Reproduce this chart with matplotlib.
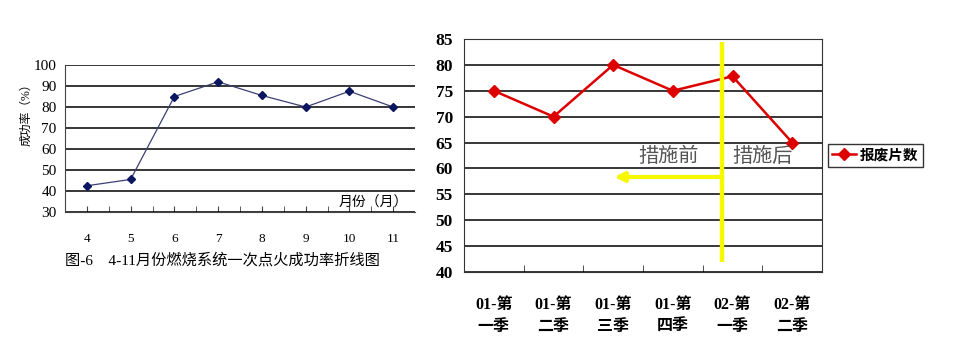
import matplotlib
matplotlib.use("Agg")
import matplotlib.pyplot as plt

plt.rcParams['font.family'] = ['Liberation Serif', 'Noto Sans CJK SC', 'DejaVu Sans']

# left chart: ignition success rate by month
months = [4, 5, 6, 7, 8, 9, 10, 11]
success_rate = [42.5, 45.5, 85, 92, 85.5, 80, 87.5, 80]

# right chart: scrapped pieces per quarter
quarters = ['01-第\n一季', '01-第\n二季', '01-第\n三季', '01-第\n四季', '02-第\n一季', '02-第\n二季']
scrap = [75, 70, 80, 75, 77.8, 65]

W, H = 964, 352
fig = plt.figure(figsize=(W / 100, H / 100), dpi=100)

# ---- left chart ----
ax1 = fig.add_axes([65 / W, 1 - 212 / H, 350 / W, 147 / H])
ax1.plot(months, success_rate, color='#3b4073', lw=0.9,
         marker='D', ms=4, mfc='#0b1660', mec='#0b1660')
ax1.set_xlim(3.5, 11.5)
ax1.set_ylim(30, 100)
ax1.set_yticks(range(30, 101, 10))
ax1.set_xticks(months)
ax1.set_xticks([m + 0.5 for m in months[:-1]], minor=True)
ax1.grid(axis='y', color='black', lw=1.1)
ax1.set_axisbelow(True)
for s in ['top', 'right']:
    ax1.spines[s].set_visible(False)
ax1.spines['left'].set_color('#444444')
ax1.spines['bottom'].set_color('#444444')
ax1.tick_params(axis='y', length=0, pad=6, labelsize=11)
ax1.tick_params(axis='x', which='both', direction='in', length=4, pad=15,
                labelsize=9.5, color='#444444')
ax1.set_ylabel('成功率（%）', fontsize=8.5)
ax1.yaxis.set_label_coords(-0.094, 0.68)
ax1.text(11.35, 34.3, '月份（月）', fontsize=10, ha='right', va='center')
fig.text(65 / W, 1 - 260 / H, '图-6    4-11月份燃烧系统一次点火成功率折线图',
         fontsize=11, ha='left', va='center')

# ---- right chart ----
ax2 = fig.add_axes([464 / W, 1 - 272 / H, 358 / W, 233 / H])
x2 = list(range(len(quarters)))
ax2.plot(x2, scrap, color='#dd0000', lw=1.8, marker='D', ms=6,
         mfc='#dd0000', mec='#dd0000', label='报废片数')
ax2.set_xlim(-0.5, 5.5)
ax2.set_ylim(40, 85)
ax2.set_yticks(range(40, 86, 5))
ax2.set_xticks(x2)
ax2.set_xticklabels(quarters, fontweight='bold')
ax2.set_xticks([i + 0.5 for i in x2[:-1]], minor=True)
ax2.grid(axis='y', color='black', lw=1.1)
ax2.set_axisbelow(True)
for s in ax2.spines.values():
    s.set_color('#333333')
ax2.tick_params(axis='y', length=0, pad=8, labelsize=12.5)
for lab in ax2.get_yticklabels():
    lab.set_fontweight('bold')
ax2.tick_params(axis='x', which='major', length=0, pad=18, labelsize=11.5)
ax2.tick_params(axis='x', which='minor', direction='in', length=5, color='#333333')
for lab in ax2.get_xticklabels():
    lab.set_linespacing(1.5)

# yellow divider and arrow
ax2.plot([3.83, 3.83], [41.9, 84.4], color='#f7f700', lw=3.2, solid_capstyle='butt')
ax2.annotate('', xy=(2.02, 58.35), xytext=(3.83, 58.35),
             arrowprops=dict(arrowstyle='-|>', color='#f7f700', lw=3,
                             mutation_scale=14, shrinkA=0, shrinkB=0))
ax2.text(2.92, 62.3, '措施前', fontsize=14.5, color='#555555', ha='center', va='center',
         family=['Noto Sans CJK SC'])
ax2.text(4.51, 62.3, '措施后', fontsize=14.5, color='#555555', ha='center', va='center',
         family=['Noto Sans CJK SC'])

leg = ax2.legend(loc='center left', bbox_to_anchor=(828 / W, 1 - 155.5 / H),
                 bbox_transform=fig.transFigure, fancybox=False, edgecolor='black',
                 handlelength=1.6, borderpad=0.3, handletextpad=0.3, borderaxespad=0,
                 prop={'size': 10.5, 'weight': 'bold'})
leg.get_frame().set_linewidth(1.0)

fig.savefig('out.png', dpi=100)
